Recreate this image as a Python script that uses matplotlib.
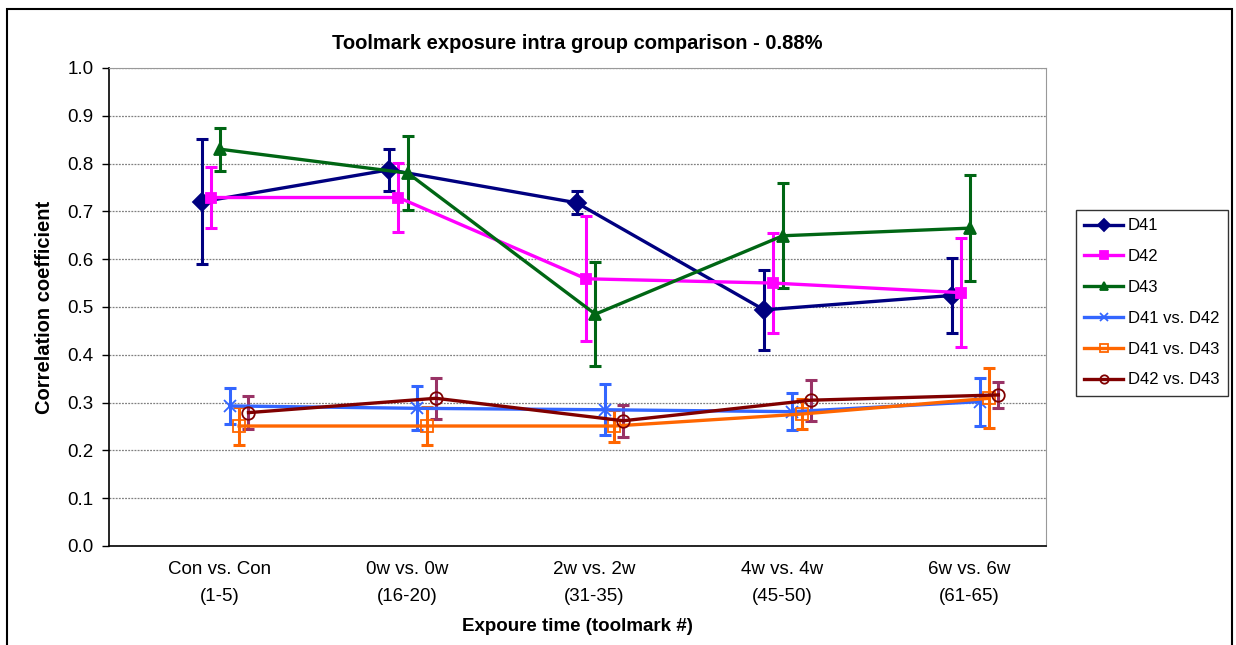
import numpy as np
import matplotlib.pyplot as plt
from matplotlib.patches import Rectangle

plt.rcParams['font.family'] = ['Liberation Sans', 'DejaVu Sans']

categories = ["Con vs. Con\n(1-5)", "0w vs. 0w\n(16-20)", "2w vs. 2w\n(31-35)",
              "4w vs. 4w\n(45-50)", "6w vs. 6w\n(61-65)"]

d41 = [0.720, 0.787, 0.718, 0.494, 0.524]
d41_err = [0.131, 0.044, 0.024, 0.083, 0.078]
d42 = [0.729, 0.729, 0.559, 0.550, 0.530]
d42_err = [0.063, 0.072, 0.131, 0.105, 0.114]
d43 = [0.830, 0.780, 0.485, 0.649, 0.665]
d43_err = [0.045, 0.077, 0.109, 0.110, 0.111]
d41_d42 = [0.293, 0.288, 0.285, 0.281, 0.302]
d41_d42_err = [0.037, 0.046, 0.053, 0.039, 0.050]
d41_d43 = [0.251, 0.251, 0.251, 0.276, 0.309]
d41_d43_err = [0.040, 0.040, 0.033, 0.032, 0.063]
d42_d43 = [0.279, 0.309, 0.262, 0.305, 0.316]
d42_d43_err = [0.034, 0.043, 0.033, 0.043, 0.028]

fig = plt.figure(figsize=(12.36, 6.45), dpi=100)
ax = fig.add_axes([0.0882, 0.1535, 0.7581, 0.7411])

x = np.arange(len(categories))
series = [
    ("D41", d41, d41_err, "#000080", "#000080", "D", 9, "#000080", "#000080"),
    ("D42", d42, d42_err, "#FF00FF", "#FF00FF", "s", 6.5, "#FF00FF", "#FF00FF"),
    ("D43", d43, d43_err, "#006614", "#006614", "^", 9, "#006614", "#006614"),
    ("D41 vs. D42", d41_d42, d41_d42_err, "#3366FF", "#3366FF", "x", 8, "#3366FF", "#3366FF"),
    ("D41 vs. D43", d41_d43, d41_d43_err, "#FF6600", "#FF6600", "s", 9, "none", "#FF6600"),
    ("D42 vs. D43", d42_d43, d42_d43_err, "#800000", "#993366", "o", 9, "none", "#800000"),
]
offsets = np.linspace(-0.125, 0.125, len(series))

for (name, vals, err, lc, ec, mk, ms, mfc, mec), off in zip(series, offsets):
    ax.errorbar(x + off, vals, yerr=err, fmt="none", ecolor=ec, elinewidth=2.2,
                capsize=4.5, capthick=2.2, zorder=2)
    ax.plot(x + off, vals, color=lc, lw=2.4, marker=mk, markersize=ms,
            markerfacecolor=mfc, markeredgecolor=mec, markeredgewidth=1.3,
            label=name, zorder=3)

ax.set_xlim(-0.619, 4.379)
ax.set_ylim(0, 1.0)
ax.set_yticks(np.arange(0, 1.01, 0.1))
ax.set_yticklabels([f"{v:.1f}" for v in np.arange(0, 1.01, 0.1)], fontsize=13.5)
ax.set_xticks(x - 0.03)
ax.set_xticklabels(categories, fontsize=13.5, linespacing=1.75)
ax.tick_params(axis="x", length=0, pad=11)
ax.tick_params(axis="y", length=5, width=1, pad=6, direction="out")

ax.grid(axis="y", color="#808080", linestyle=(0, (1.5, 1)), linewidth=0.9)
ax.set_axisbelow(True)
ax.spines["left"].set_color("black")
ax.spines["bottom"].set_color("black")
ax.spines["left"].set_linewidth(1.2)
ax.spines["bottom"].set_linewidth(1.2)
ax.spines["right"].set_color("#999999")
ax.spines["top"].set_color("#999999")

ax.set_ylabel("Correlation coefficient", fontsize=14.5, fontweight="bold", labelpad=10)
ax.set_xlabel("Expoure time (toolmark #)", fontsize=13.5, fontweight="bold", labelpad=9)
ax.set_title("Toolmark exposure intra group comparison - 0.88%", fontsize=14.5,
             fontweight="bold", pad=14)

leg = ax.legend(loc="upper left", bbox_to_anchor=(1076 / 1236, 1 - 210 / 645),
                bbox_transform=fig.transFigure, borderaxespad=0, fontsize=12,
                frameon=True, fancybox=False, handlelength=2.3, labelspacing=0.95,
                borderpad=0.5, handletextpad=0.3)
leg.get_frame().set_edgecolor("black")
leg.get_frame().set_linewidth(1.0)
for h in leg.legend_handles:
    h.set_markersize(6)

fig.patches.append(Rectangle((7 / 1236, -0.05), 1225 / 1236, 1.05 - 9 / 645,
                             transform=fig.transFigure, fill=False,
                             edgecolor="black", linewidth=1.5))

fig.savefig("out.png", dpi=100)
